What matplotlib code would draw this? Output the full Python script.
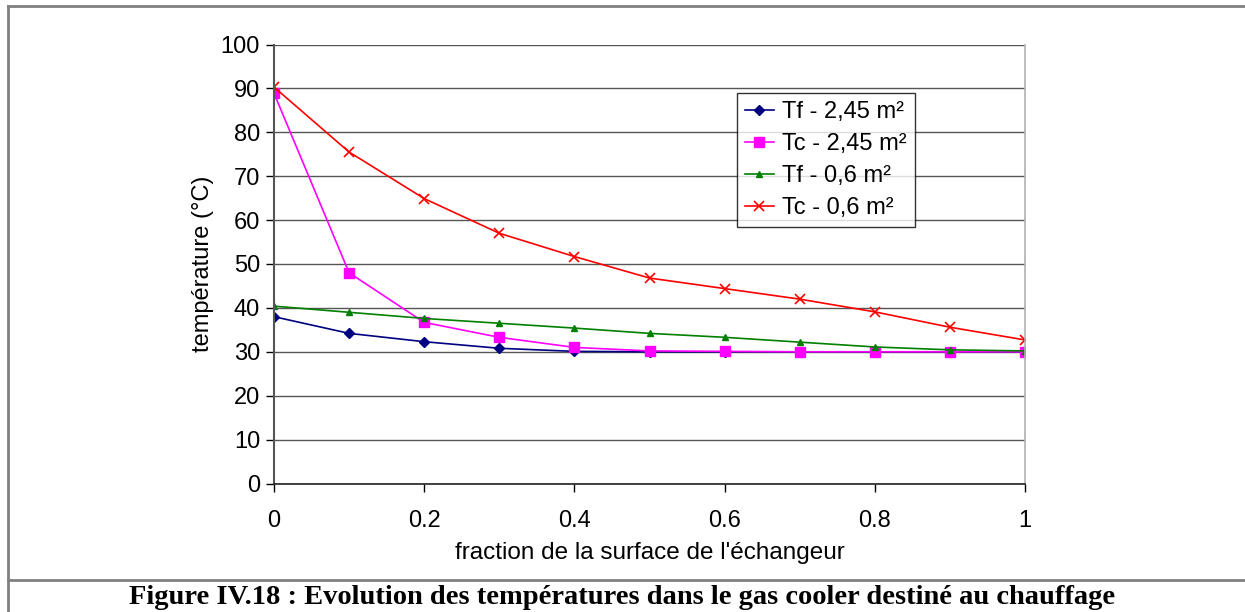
import matplotlib
matplotlib.use("Agg")
import matplotlib.pyplot as plt
from matplotlib.lines import Line2D

plt.rcParams['font.family'] = ['Liberation Sans', 'DejaVu Sans']

x = [0, 0.1, 0.2, 0.3, 0.4, 0.5, 0.6, 0.7, 0.8, 0.9, 1.0]
tf_245 = [38.0, 34.2, 32.3, 30.8, 30.1, 30.0, 30.0, 30.0, 30.0, 30.0, 30.0]
tc_245 = [88.9, 48.0, 36.7, 33.3, 31.0, 30.2, 30.1, 30.0, 30.0, 30.0, 30.0]
tf_06 = [40.4, 39.0, 37.6, 36.5, 35.4, 34.2, 33.3, 32.2, 31.1, 30.45, 30.2]
tc_06 = [90.3, 75.5, 64.9, 57.0, 51.7, 46.8, 44.4, 42.0, 39.1, 35.6, 32.7]
labels = ["Tf - 2,45 m²", "Tc - 2,45 m²", "Tf - 0,6 m²", "Tc - 0,6 m²"]
xticks = [0, 0.2, 0.4, 0.6, 0.8, 1]
xticklabels = ["0", "0.2", "0.4", "0.6", "0.8", "1"]
yticks = list(range(0, 101, 10))

W, H = 1245, 612
fig = plt.figure(figsize=(W / 100, H / 100), dpi=100)
ax = fig.add_axes([274 / W, 1 - 483.5 / H, (1025 - 274) / W, (483.5 - 44.5) / H])

ax.plot(x, tf_245, color='#000080', marker='D', markersize=5.5, lw=1.2, label=labels[0])
ax.plot(x, tc_245, color='#FF00FF', marker='s', markersize=6.5, lw=1.2, label=labels[1])
ax.plot(x, tf_06, color='#008000', marker='^', markersize=5, lw=1.2, label=labels[2])
ax.plot(x, tc_06, color='#FF0000', marker='x', markersize=7, mew=1.2, lw=1.2, label=labels[3])

ax.set_xlim(0, 1)
ax.set_ylim(0, 100)
ax.set_xticks(xticks)
ax.set_xticklabels(xticklabels)
ax.set_yticks(yticks)
ax.tick_params(axis='both', labelsize=17, direction='out', length=6, width=1, colors='#000000')
ax.tick_params(axis='x', pad=13)
ax.tick_params(axis='y', pad=4)
ax.grid(axis='y', color='#555555', lw=1)
ax.set_axisbelow(True)
ax.spines['top'].set_visible(False)
ax.spines['right'].set_color('#b0b0b0')
ax.spines['right'].set_linewidth(1.2)
ax.spines['left'].set_color('#555555')
ax.spines['left'].set_linewidth(1.5)
ax.spines['bottom'].set_color('#222222')
ax.spines['bottom'].set_linewidth(1.2)

ax.set_xlabel("fraction de la surface de l'échangeur", fontsize=17.5, labelpad=7)
ax.set_ylabel("température (°C)", fontsize=17, labelpad=5)

leg = ax.legend(loc='upper left', bbox_to_anchor=((737 - 274) / 751, (483.5 - 93) / 439),
                borderaxespad=0, fontsize=17, frameon=True, fancybox=False,
                handlelength=1.2, handletextpad=0.35, labelspacing=0.42, borderpad=0.35)
leg.get_frame().set_edgecolor('#000000')
leg.get_frame().set_linewidth(1)

gray = '#808080'
fig.add_artist(Line2D([8 / W, 8 / W], [0, 1 - 6 / H], transform=fig.transFigure, color=gray, lw=2))
fig.add_artist(Line2D([8 / W, 1], [1 - 6 / H, 1 - 6 / H], transform=fig.transFigure, color=gray, lw=2))
fig.add_artist(Line2D([8 / W, 1], [1 - 580 / H, 1 - 580 / H], transform=fig.transFigure, color=gray, lw=2))

fig.text(622 / W, 1 - 598 / H,
         "Figure IV.18 : Evolution des températures dans le gas cooler destiné au chauffage",
         ha='center', va='center', fontsize=20.5, fontweight='bold',
         family=['Liberation Serif', 'DejaVu Serif'])

fig.savefig("out.png", dpi=100)
